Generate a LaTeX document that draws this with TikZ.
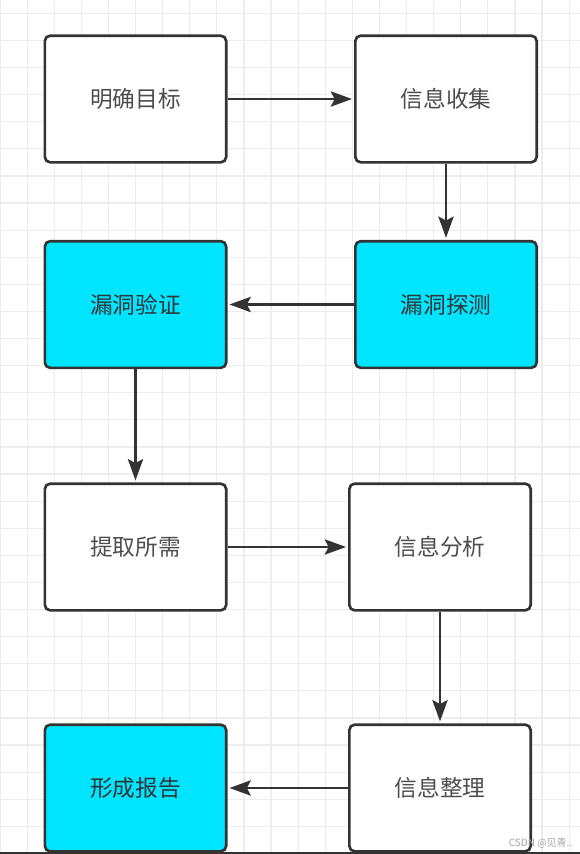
\documentclass[tikz,border=0pt]{standalone}
\usepackage{fontspec}
\newfontfamily\cjk{Noto Sans CJK SC}
\usetikzlibrary{arrows.meta}

\definecolor{boxcyan}{HTML}{00E5FF}
\definecolor{edgegray}{HTML}{333333}
\definecolor{gridgray}{HTML}{EDEDED}
\definecolor{textgray}{HTML}{4D4D4D}

\begin{document}
\begin{tikzpicture}[x=0.75pt, y=-0.75pt,
    stepbox/.style={draw=edgegray, line width=2pt, rounded corners=4pt,
        fill=white, minimum width=136pt, minimum height=95pt,
        font=\cjk\fontsize{17}{20}\selectfont, text=textgray},
    hotbox/.style={stepbox, fill=boxcyan, text=edgegray},
    flow/.style={draw=edgegray, line width=1.6pt,
        -{Stealth[length=16pt, width=11.5pt, inset=3pt]}, shorten >=1.5pt},
    gridline/.style={draw=gridgray, line width=0.9pt}]

        \useasboundingbox (0,0) rectangle (580,854);

        % === GRID ===
        \foreach \i in {0,...,21}
            \draw[gridline] ({\i*27.1},0) -- ({\i*27.1},854);
        \foreach \j in {0,...,31}
            \draw[gridline] (0,{13.3+\j*27.1}) -- (580,{13.3+\j*27.1});

        % === STEPS ===
        \node[stepbox] (mingque)  at (135.5,99)  {明确目标};
        \node[stepbox] (shouji)   at (446,99)    {信息收集};
        \node[hotbox]  (yanzheng) at (135.5,304.5) {漏洞验证};
        \node[hotbox]  (tance)    at (446,304.5) {漏洞探测};
        \node[stepbox] (tiqu)     at (135.5,547) {提取所需};
        \node[stepbox] (fenxi)    at (440,547)   {信息分析};
        \node[hotbox]  (baogao)   at (135.5,788) {形成报告};
        \node[stepbox] (zhengli)  at (440,788)   {信息整理};

        % === ARROWS ===
        \draw[flow] (mingque) -- (shouji);
        \draw[flow] (shouji) -- (tance);
        \draw[flow] (tance) -- (yanzheng);
        \draw[flow] (yanzheng) -- (tiqu);
        \draw[flow] (tiqu) -- (fenxi);
        \draw[flow] (fenxi) -- (zhengli);
        \draw[flow] (zhengli) -- (baogao);

        % === BOTTOM EDGE ===
        \draw[edgegray, line width=1.5pt] (0,853) -- (580,853);

        % === WATERMARK ===
        \node[anchor=east, text=gray!70, font=\cjk\fontsize{7.5}{9}\selectfont]
            (mark) at (577,843) {CSDN @见青..};

    \end{tikzpicture}
\end{document}
